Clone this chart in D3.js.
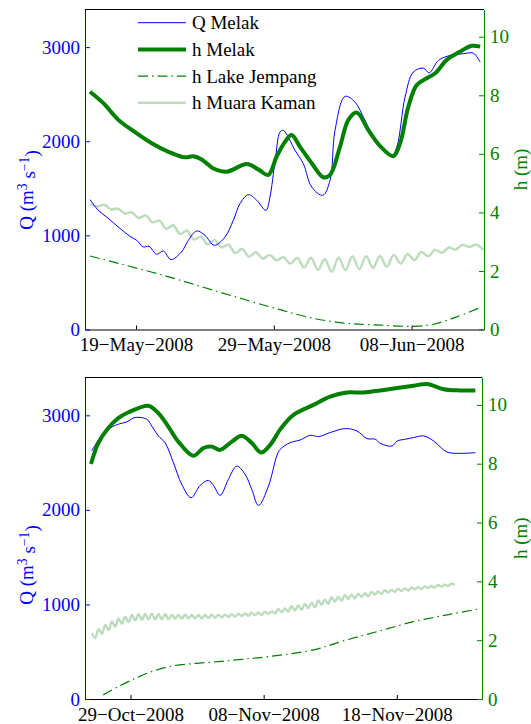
<!DOCTYPE html>
<html>
<head>
<meta charset="utf-8">
<script src="https://cdn.jsdelivr.net/npm/d3@7/dist/d3.min.js"></script>
<style>
body { margin: 0; background: #fff; }
svg { display: block; font-family: "Liberation Serif", "Times New Roman", serif; }
</style>
</head>
<body>
<div id="chart"></div>
<script>
// t = days after the panel's base date

var qMelakMay = [[-3.34,1380],[-2.73,1266],[-2.13,1195],[-1.28,1089],[-0.44,990],[0.05,948],[0.53,877],[0.94,884],[1.5,799],[1.98,834],[2.54,743],[3.3,824],[3.8,948],[4.4,1047],[5.0,1001],[5.68,895],[6.46,983],[7.06,1160],[7.55,1338],[8.15,1433],[8.76,1373],[9.43,1266],[9.72,1408],[10.1,1797],[10.45,2098],[10.69,2116],[11.54,1903],[12.14,1762],[12.75,1514],[13.55,1426],[14.08,1585],[14.44,2116],[15.17,2477],[15.89,2416],[16.5,2257],[17.1,2081],[17.7,1957],[18.55,1850],[18.92,1938],[19.52,2469],[20.12,2735],[20.85,2777],[21.28,2728],[21.94,2859],[22.79,2912],[23.75,2930],[24.48,2936],[24.97,2841]];

var hMelakMay = [[-3.34,8.12],[-2.37,7.73],[-1.28,7.16],[-0.1,6.75],[1.14,6.36],[2.36,6.07],[3.56,5.88],[4.16,5.92],[4.77,5.81],[5.62,5.50],[6.58,5.39],[8.03,5.65],[8.87,5.47],[9.6,5.28],[10.2,5.90],[10.81,6.41],[11.29,6.64],[11.9,6.24],[12.75,5.68],[13.59,5.20],[14.08,5.28],[14.8,6.24],[15.41,7.16],[16.02,7.41],[16.86,6.81],[17.7,6.27],[18.67,5.92],[19.16,6.36],[19.76,7.61],[20.37,8.35],[21.09,8.58],[21.7,8.75],[22.55,9.21],[23.51,9.49],[24.36,9.69],[24.97,9.66]];

var hJempangMay = [[-3.34,2.51],[-1.28,2.26],[2.36,1.80],[5.97,1.29],[10.57,0.66],[12.87,0.38],[15.29,0.21],[17.7,0.15],[20.12,0.11],[21.57,0.18],[23.27,0.43],[24.97,0.75]];

// Muara Kaman sampled every half day from t = -3.3
var kamanMayStart = -3.3;
var kamanMayStep = 0.5;
var hKamanMay = [4.28,4.20,4.26,4.10,4.13,3.96,4.00,3.81,3.90,3.66,3.72,3.44,3.56,3.26,3.38,3.07,3.17,2.91,3.06,2.80,2.90,2.61,2.75,2.49,2.64,2.42,2.55,2.36,2.47,2.25,2.44,2.12,2.45,2.04,2.40,1.97,2.45,2.03,2.50,2.06,2.50,2.10,2.51,2.14,2.55,2.25,2.58,2.37,2.65,2.50,2.72,2.62,2.80,2.73,2.89,2.82,2.90,2.72];

var qMelakOct = [[-2.92,2622],[-2.29,2765],[-1.67,2853],[-0.92,2906],[-0.29,2930],[0.34,2977],[1.22,2959],[1.59,2888],[2.09,2782],[2.59,2711],[3.22,2500],[3.85,2269],[4.55,2128],[5.23,2259],[5.85,2312],[6.23,2259],[6.73,2153],[7.35,2322],[7.98,2463],[8.61,2375],[9.11,2216],[9.61,2047],[10.36,2251],[10.98,2569],[11.24,2640],[11.99,2711],[12.74,2739],[13.5,2789],[14.12,2775],[15.0,2818],[16.13,2860],[17.0,2835],[17.76,2754],[18.38,2747],[18.76,2704],[19.64,2675],[20.02,2728],[20.64,2747],[21.26,2765],[22.01,2782],[22.77,2728],[23.77,2612],[24.77,2598],[25.9,2605]];

var hMelakOct = [[-2.97,7.99],[-2.42,8.70],[-1.67,9.21],[-0.92,9.55],[-0.04,9.77],[0.59,9.89],[1.34,9.97],[2.09,9.72],[2.84,9.26],[3.59,8.75],[4.72,8.27],[5.47,8.53],[6.1,8.58],[6.73,8.47],[7.61,8.75],[8.36,8.95],[9.11,8.70],[9.81,8.38],[10.49,8.64],[11.3,9.2],[12.24,9.66],[13.74,10.0],[14.99,10.28],[16.25,10.42],[17.5,10.42],[18.76,10.49],[20.02,10.57],[21.27,10.65],[22.27,10.71],[23.52,10.53],[24.77,10.49],[25.9,10.49]];

var hJempangOct = [[-2.05,0.14],[-0.92,0.42],[0.34,0.70],[1.59,0.93],[3.1,1.12],[4.85,1.21],[6.6,1.27],[8.36,1.35],[10.36,1.44],[13.74,1.67],[16.25,2.01],[18.76,2.32],[21.26,2.63],[23.77,2.86],[26.02,3.05]];

// Muara Kaman sampled every quarter day from t = -2.9
var kamanOctStart = -2.9;
var kamanOctStep = 0.25;
var hKamanOct = [2.24,2.07,2.38,2.21, 2.52,2.34,2.64,2.46, 2.73,2.56,2.80,2.62, 2.86,2.68,2.89,2.69,
    2.90,2.70,2.90,2.70, 2.89,2.71,2.89,2.71, 2.87,2.73,2.87,2.73, 2.87,2.74,2.86,2.74,
    2.86,2.74,2.86,2.75, 2.87,2.76,2.87,2.77, 2.87,2.79,2.88,2.80, 2.90,2.82,2.91,2.83,
    2.93,2.85,2.94,2.86, 2.97,2.89,2.98,2.91, 3.06,2.95,3.08,2.97, 3.16,3.01,3.18,3.03,
    3.24,3.09,3.27,3.12, 3.35,3.20,3.38,3.23, 3.46,3.31,3.48,3.34, 3.54,3.40,3.55,3.42,
    3.58,3.47,3.60,3.49, 3.64,3.55,3.66,3.57, 3.70,3.62,3.71,3.64, 3.75,3.67,3.76,3.69,
    3.79,3.73,3.80,3.74, 3.83,3.77,3.84,3.79, 3.88,3.82,3.89,3.84, 3.92,3.88];

var mayTicks = [0, 10, 20];
var octTicks = [0, 10, 20];
var qTicks = [0, 1000, 2000, 3000];
var hTicks = [0, 2, 4, 6, 8, 10];
var qDomain = [0, 3400];
var hDomain = [0, 10.93];

var legendNames = ["Q Melak", "h Melak", "h Lake Jempang", "h Muara Kaman"];

var blue = "#0000ff";
var green = "#008000";
var paleGreen = "#bddcbd";
var fontSize = 19;

var width = 531;
var height = 724;

var styles = {
    "Q Melak": { stroke: blue, width: 1, dash: null },
    "h Melak": { stroke: green, width: 4, dash: null },
    "h Lake Jempang": { stroke: green, width: 1.2, dash: "10,4,1.5,4" },
    "h Muara Kaman": { stroke: paleGreen, width: 2.4, dash: null }
};

function spread(start, step, values) {
    return values.map(function(v, i) {
        return [start + i * step, v];
    });
}

var panels = [{
    id: "may",
    base: Date.UTC(2008, 4, 19),
    tMin: -3.70, tMax: 25.25,
    left: 85, right: 484, top: 9.5, bottom: 329.5,
    qLabelY: 190,
    ticks: mayTicks,
    q: qMelakMay,
    h: hMelakMay,
    jempang: hJempangMay,
    kaman: spread(kamanMayStart, kamanMayStep, hKamanMay),
    legend: true
}, {
    id: "oct",
    base: Date.UTC(2008, 9, 29),
    tMin: -3.42, tMax: 26.4,
    left: 85, right: 482, top: 377.5, bottom: 699,
    qLabelY: 565,
    ticks: octTicks,
    q: qMelakOct,
    h: hMelakOct,
    jempang: hJempangOct,
    kaman: spread(kamanOctStart, kamanOctStep, hKamanOct),
    legend: false
}];

var svg = d3.select("#chart")
    .append("svg")
    .attr("width", width)
    .attr("height", height);

var fmt = d3.utcFormat("%d\u2212%b\u2212%Y");

function drawPanel(p) {
    function toDate(t) {
        return new Date(p.base + t * 864e5);
    }

    var x = d3.scaleUtc()
        .domain([toDate(p.tMin), toDate(p.tMax)])
        .range([p.left, p.right]);
    var yQ = d3.scaleLinear().domain(qDomain).range([p.bottom, p.top]);
    var yH = d3.scaleLinear().domain(hDomain).range([p.bottom, p.top]);

    var g = svg.append("g").attr("class", "panel " + p.id);

    g.append("clipPath")
        .attr("id", "clip-" + p.id)
        .append("rect")
        .attr("x", p.left)
        .attr("y", p.top)
        .attr("width", p.right - p.left)
        .attr("height", p.bottom - p.top);

    var plot = g.append("g").attr("clip-path", "url(#clip-" + p.id + ")");

    var qLine = d3.line()
        .x(function(d) { return x(toDate(d[0])); })
        .y(function(d) { return yQ(d[1]); })
        .curve(d3.curveCatmullRom.alpha(0.5));
    var hLine = d3.line()
        .x(function(d) { return x(toDate(d[0])); })
        .y(function(d) { return yH(d[1]); })
        .curve(d3.curveCatmullRom.alpha(0.5));

    var series = [
        { name: "h Muara Kaman", data: p.kaman, line: hLine },
        { name: "h Lake Jempang", data: p.jempang, line: hLine },
        { name: "Q Melak", data: p.q, line: qLine },
        { name: "h Melak", data: p.h, line: hLine }
    ];

    series.forEach(function(s) {
        var st = styles[s.name];
        plot.append("path")
            .datum(s.data)
            .attr("d", s.line)
            .attr("fill", "none")
            .attr("stroke", st.stroke)
            .attr("stroke-width", st.width)
            .attr("stroke-dasharray", st.dash)
            .attr("stroke-linejoin", "round");
    });

    // top border
    g.append("line")
        .attr("x1", p.left).attr("x2", p.right)
        .attr("y1", p.top).attr("y2", p.top)
        .attr("stroke", "black")
        .attr("stroke-width", 1);

    var xAxis = d3.axisBottom(x)
        .tickValues(p.ticks.map(toDate))
        .tickFormat(fmt)
        .tickSizeInner(-4)
        .tickSizeOuter(0)
        .tickPadding(8.5);
    var gx = g.append("g")
        .attr("transform", "translate(0," + p.bottom + ")")
        .call(xAxis);
    gx.attr("font-family", null).attr("font-size", fontSize);
    gx.selectAll("path, line").attr("stroke", "black");
    gx.selectAll("text").attr("fill", "black");

    var qAxis = d3.axisLeft(yQ)
        .tickValues(qTicks)
        .tickFormat(d3.format("d"))
        .tickSizeInner(-5)
        .tickSizeOuter(0)
        .tickPadding(5);
    var gq = g.append("g")
        .attr("transform", "translate(" + p.left + ",0)")
        .call(qAxis);
    gq.attr("font-family", null).attr("font-size", fontSize);
    gq.selectAll("path, line").attr("stroke", blue);
    gq.selectAll("text").attr("fill", blue);

    var hAxis = d3.axisRight(yH)
        .tickValues(hTicks)
        .tickFormat(d3.format("d"))
        .tickSizeInner(-5)
        .tickSizeOuter(0)
        .tickPadding(6);
    var gh = g.append("g")
        .attr("transform", "translate(" + p.right + ",0)")
        .call(hAxis);
    gh.attr("font-family", null).attr("font-size", fontSize);
    gh.selectAll("path, line").attr("stroke", green);
    gh.selectAll("text").attr("fill", green);

    // axis titles
    var ql = g.append("text")
        .attr("transform", "translate(33," + p.qLabelY + ") rotate(-90)")
        .attr("text-anchor", "middle")
        .attr("font-size", fontSize)
        .attr("fill", blue);
    ql.append("tspan").text("Q (m");
    ql.append("tspan").attr("dy", "-0.45em").attr("font-size", "0.72em").text("3");
    ql.append("tspan").attr("dy", "0.45em").text(" s");
    ql.append("tspan").attr("dy", "-0.45em").attr("font-size", "0.72em").text("\u22121");
    ql.append("tspan").attr("dy", "0.45em").text(")");

    g.append("text")
        .attr("transform", "translate(527," + ((p.top + p.bottom) / 2) + ") rotate(-90)")
        .attr("text-anchor", "middle")
        .attr("font-size", fontSize)
        .attr("fill", green)
        .text("h (m)");

    if (p.legend) {
        var legend = g.append("g").attr("class", "legend");
        legendNames.forEach(function(name, i) {
            var st = styles[name];
            var row = legend.append("g")
                .attr("transform", "translate(138," + (22.7 + i * 26.7) + ")");
            row.append("line")
                .attr("x1", 0).attr("x2", 48)
                .attr("y1", 0).attr("y2", 0)
                .attr("stroke", st.stroke)
                .attr("stroke-width", st.width)
                .attr("stroke-dasharray", st.dash);
            row.append("text")
                .attr("x", 54)
                .attr("dy", "0.34em")
                .attr("font-size", fontSize)
                .attr("fill", "black")
                .text(name);
        });
    }
}

panels.forEach(drawPanel);
</script>
</body>
</html>
